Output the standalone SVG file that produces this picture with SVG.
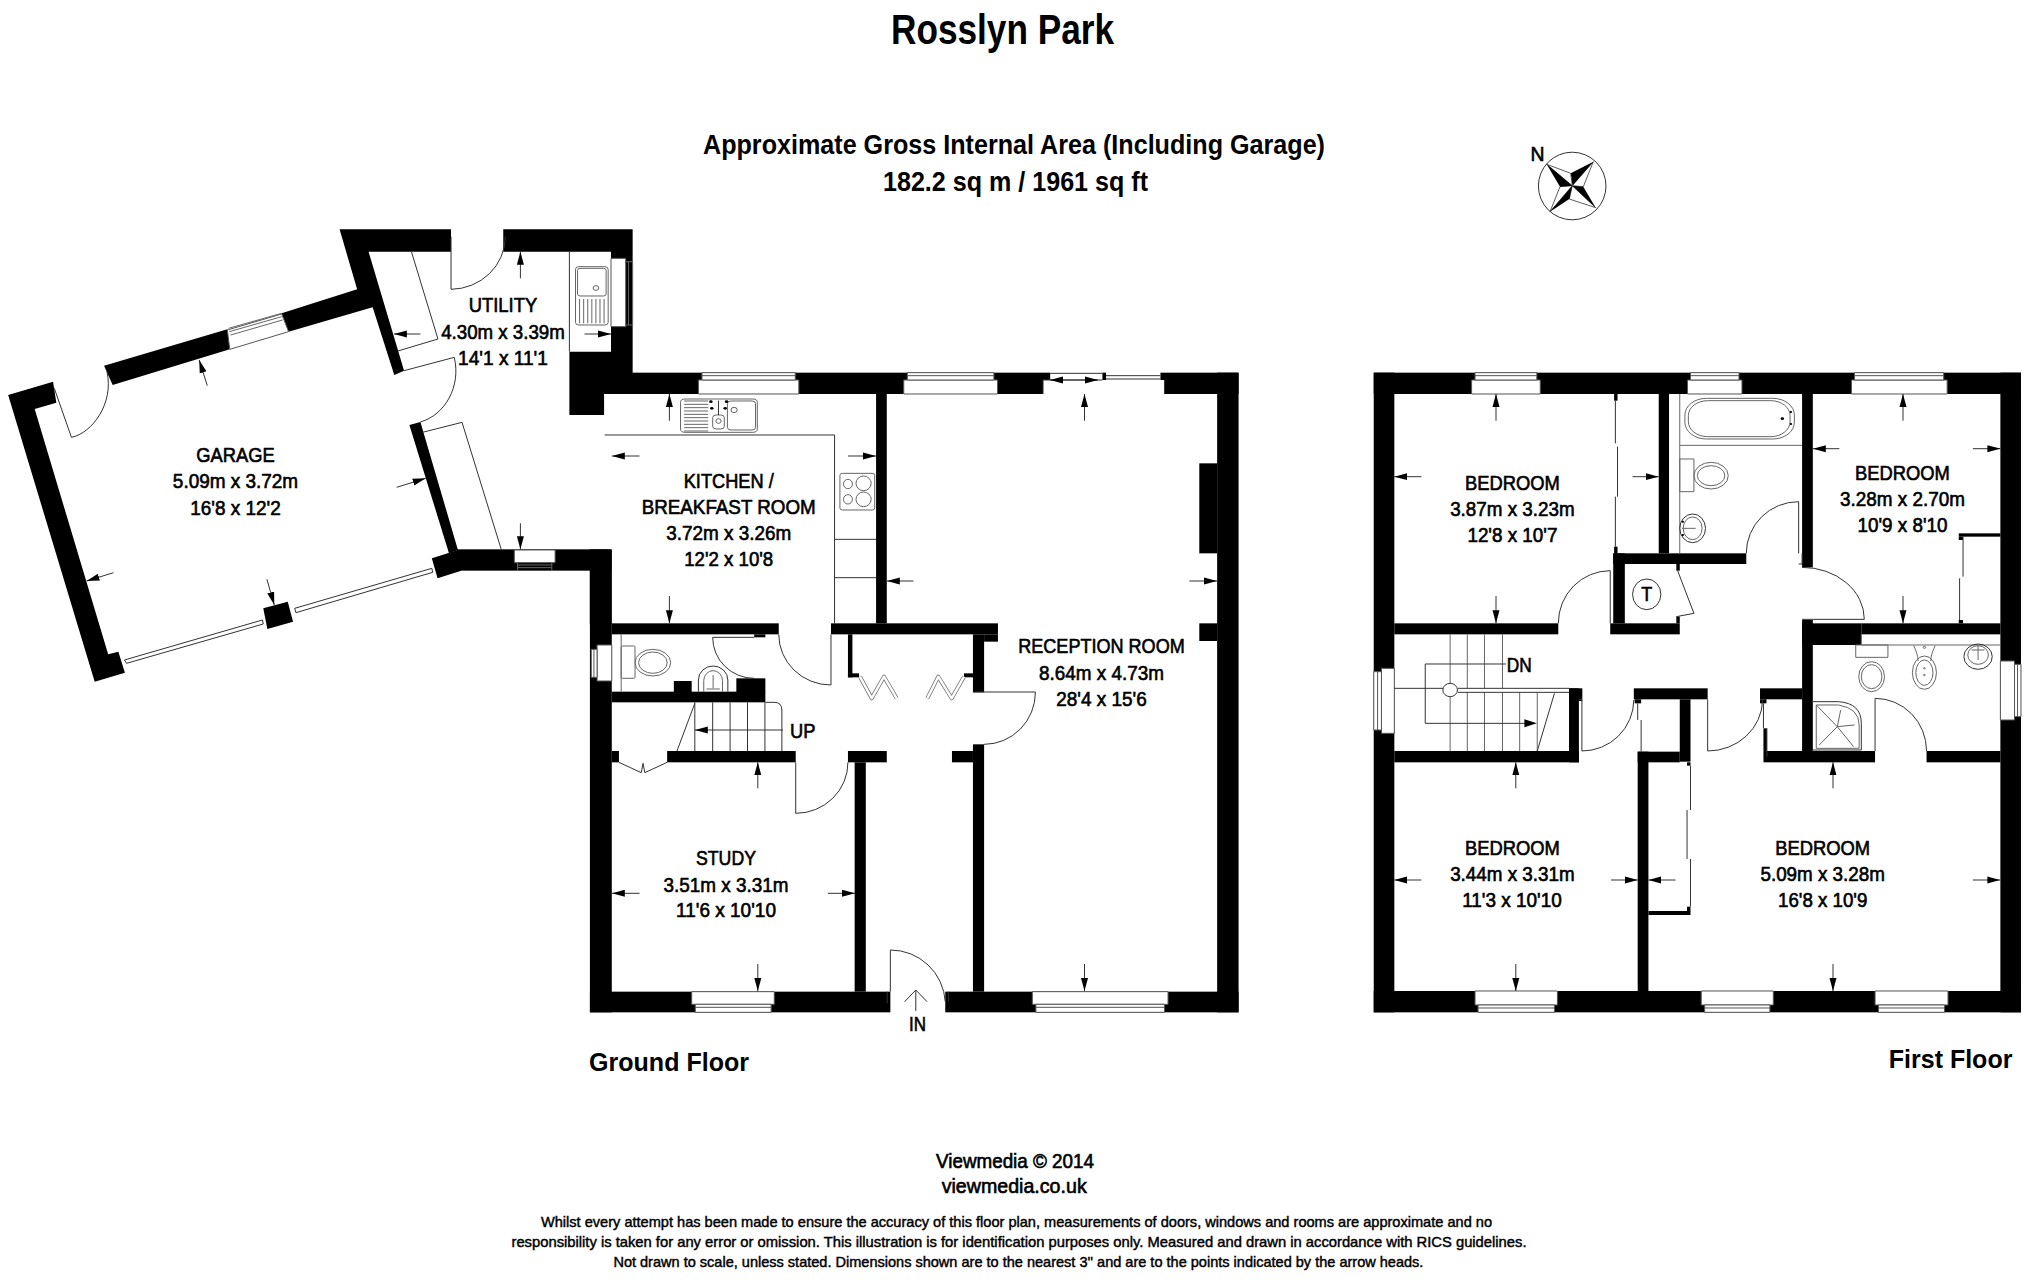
<svg xmlns="http://www.w3.org/2000/svg" width="2033" height="1284" viewBox="0 0 2033 1284">
<style>
.w{fill:#000}
.o{fill:#fff;stroke:#555;stroke-width:1;vector-effect:non-scaling-stroke}
.l{fill:none;stroke:#333;stroke-width:1;vector-effect:non-scaling-stroke}
.lw{fill:#fff;stroke:#333;stroke-width:1;vector-effect:non-scaling-stroke}
.f{fill:none;stroke:#666;stroke-width:1;vector-effect:non-scaling-stroke}
.a{stroke:#333;stroke-width:1;fill:none;marker-end:url(#ah)}
.bf1{fill:none;stroke:#777;stroke-width:4;stroke-linejoin:round}
.bf2{fill:none;stroke:#fff;stroke-width:2.4;stroke-linejoin:round}
text{font-family:"Liberation Sans",Arial,sans-serif;fill:#000;text-anchor:middle}
.r{font-size:21px;stroke:#000;stroke-width:.65px}
.b{font-weight:bold}
.h1{font-size:43px}
.h2{font-size:27px}
.h3{font-size:26px}
.d{font-size:15px;stroke:#000;stroke-width:.45px}
</style>
<defs>
<marker id="ah" markerUnits="userSpaceOnUse" markerWidth="13" markerHeight="8" refX="13" refY="4" orient="auto"><path d="M0,0.5 L13,4 L0,7.5 Z" fill="#000"/></marker>
</defs>
<rect width="2033" height="1284" fill="#fff"/>

<g id="utility-garage" transform="translate(0,220) scale(.40816,.33333)">
<polygon class="w" points="832,28 1105,28 1105,95 903,95 990,452 966,465 913,262 707,335 690,280 875,208"/>
<polygon class="w" points="255,437 557,328 563,388 276,495"/>
<polygon class="w" points="20,525 130,485 138,548 85,567 265,1303 290,1295 306,1358 232,1385"/>
<polygon class="w" points="1003,615 1030,606 1122,990 1100,1000"/>
<polygon class="w" points="1058,1015 1122,990 1130,1052 1072,1075"/>
<polygon class="w" points="645,1165 705,1145 718,1205 655,1227"/>
<polygon class="w" points="1233,28 1550,28 1550,480 1568,480 1568,522 1480,522 1480,585 1395,585 1395,395 1497,395 1497,95 1233,95"/>
<rect class="w" x="1120" y="988" width="378" height="64"/>
<rect class="w" x="1445" y="988" width="53" height="225"/>
<rect class="o" x="1260" y="990" width="100" height="38"/>
<path class="f" d="M1268,1035H1352M1268,1043H1352M1268,1028V1052M1352,1028V1052"/>
<rect class="o" x="1497" y="115" width="36" height="205"/>
<path class="f" d="M1533,125H1550V315H1533M1540,125V315"/>
<polygon class="o" points="557,330 690,282 707,335 563,388"/>
<path class="f" d="M560,325L690,280M562,335L690,290M565,345L692,300"/>
<path class="l" d="M305,1320L643,1200L645,1212L310,1330ZM722,1165L1058,1045L1060,1057L725,1178Z"/>
<path class="l" d="M1105,50V208A135,158 0 0 0 1238,50"/>
<path class="l" d="M1008,95L1073,357L975,393"/>
<path class="l" d="M990,452L1113,412C1130,500 1090,585 1030,606"/>
<path class="l" d="M133,505L175,652C225,640 280,550 262,455"/>
<path class="l" d="M1035,637L1132,607L1228,988"/>
<path class="l" d="M1395,95V395"/>
<rect class="f" x="1410" y="140" width="80" height="175" rx="8"/>
<rect class="f" x="1415" y="145" width="70" height="83" rx="6"/>
<circle class="f" cx="1460" cy="204" r="7"/>
<path class="f" d="M1420,237V310M1430,237V310M1440,237V310M1450,237V310M1460,237V310M1470,237V310M1480,237V310"/>
</g>

<g id="ground-floor" transform="translate(560,360) scale(.44643,.33333)">
<rect class="w" x="100" y="60" width="982" height="42"/>
<rect class="w" x="100" y="38" width="998" height="22"/>
<rect class="w" x="1345" y="38" width="175" height="22"/>
<rect class="w" x="1354" y="60" width="166" height="42"/>
<rect class="w" x="1215" y="38" width="8" height="22"/>
<rect class="w" x="1472" y="38" width="48" height="1919"/>
<rect class="w" x="1432" y="310" width="40" height="270"/>
<rect class="w" x="1432" y="790" width="40" height="53"/>
<rect class="w" x="708" y="102" width="24" height="688"/>
<rect class="w" x="67" y="570" width="49" height="1387"/>
<rect class="w" x="116" y="790" width="374" height="33"/>
<rect class="w" x="607" y="790" width="374" height="33"/>
<rect class="w" x="925" y="823" width="25" height="174"/>
<rect class="w" x="950" y="823" width="31" height="22"/>
<rect class="w" x="645" y="823" width="10" height="129"/>
<rect class="w" x="645" y="940" width="25" height="12"/>
<rect class="w" x="905" y="940" width="20" height="12"/>
<rect class="w" x="435" y="823" width="25" height="9"/>
<rect class="w" x="116" y="995" width="344" height="32"/>
<rect class="w" x="255" y="963" width="40" height="34"/>
<rect class="w" x="395" y="955" width="65" height="42"/>
<rect class="w" x="116" y="1173" width="16" height="34"/>
<rect class="w" x="240" y="1173" width="288" height="34"/>
<rect class="w" x="645" y="1173" width="87" height="34"/>
<rect class="w" x="878" y="1173" width="47" height="34"/>
<rect class="w" x="660" y="1207" width="25" height="688"/>
<rect class="w" x="925" y="1153" width="25" height="742"/>
<rect class="w" x="67" y="1895" width="673" height="62"/>
<rect class="w" x="863" y="1895" width="657" height="62"/>
<!-- windows -->
<rect class="o" x="310" y="60" width="225" height="42"/>
<path class="o" d="M318,38H527V60H318ZM318,47H527"/>
<rect class="o" x="770" y="60" width="210" height="42"/>
<path class="o" d="M778,38H972V60H778ZM778,47H972"/>
<path class="l" d="M1098,40H1215M1098,60H1215M1223,47H1345M1223,57H1345M1082,60V102M1354,60V102M1082,60H1098"/>
<rect class="o" x="83" y="855" width="33" height="108"/>
<path class="o" d="M70,868H83V952H70ZM76,868V952"/>
<rect class="o" x="295" y="1895" width="185" height="38"/>
<path class="o" d="M303,1933H473V1957H303ZM303,1942H473"/>
<rect class="o" x="1058" y="1895" width="304" height="38"/>
<path class="o" d="M1066,1933H1354V1957H1066ZM1066,1942H1354"/>
<!-- kitchen -->
<path class="l" d="M100,225H615V790M615,538H708M615,653H708"/>
<rect class="f" x="270" y="117" width="172" height="100" rx="10"/>
<rect class="f" x="375" y="123" width="63" height="87" rx="8"/>
<rect class="f" x="342" y="165" width="26" height="42" rx="8"/>
<ellipse class="f" cx="355" cy="183" rx="6" ry="7"/>
<ellipse class="f" cx="390" cy="150" rx="7" ry="8"/>
<path class="f" d="M278,123H332M278,133H332M278,143H332M278,153H332M278,163H332M278,173H332M278,183H332M278,193H332M278,203H332M278,213H332"/>
<path class="l" d="M355,122V165"/>
<circle cx="338" cy="125" r="4"/><circle cx="373" cy="125" r="4"/><circle cx="340" cy="145" r="4"/><circle cx="370" cy="145" r="4"/>
<rect class="f" x="627" y="340" width="78" height="110" rx="6"/>
<ellipse class="f" cx="645" cy="372" rx="10" ry="14"/>
<ellipse class="f" cx="680" cy="370" rx="17" ry="22"/>
<ellipse class="f" cx="645" cy="418" rx="10" ry="14"/>
<ellipse class="f" cx="680" cy="418" rx="17" ry="22"/>
<!-- wc -->
<path class="f" d="M137,823V995"/>
<rect class="f" x="137" y="858" width="31" height="97" rx="3"/>
<ellipse class="f" cx="208" cy="908" rx="40" ry="40"/>
<ellipse class="f" cx="208" cy="908" rx="32" ry="32"/>
<path class="l" d="M310,995V960A33,42 0 0 1 376,960V995"/>
<path class="f" d="M322,995V962A21,30 0 0 1 364,962V995M343,945V985M328,987H358"/>
<path class="l" d="M435,832H342A93,123 0 0 0 435,955"/>
<path class="l" d="M607,823V975A117,152 0 0 1 490,823"/>
<path class="l" d="M925,996H1065A115,157 0 0 1 950,1153"/>
<path class="l" d="M528,1207V1360A117,153 0 0 0 645,1207"/>
<!-- stairs -->
<path class="l" d="M302,1027V1173M342,1027V1173M381,1027V1173M420,1027V1173M459,1027V1173M460,1027H480Q497,1027 497,1050V1173M302,1030L262,1173"/>
<path class="l" d="M132,1207L182,1238L186,1210L190,1238L240,1207"/>
<!-- entrance -->
<path class="l" d="M740,1895V1770A123,165 0 0 1 863,1925M733,1895V1930M870,1895V1925"/>
</g>

<g id="bifold-doors">
<path class="bf1" d="M860,676.7L871.7,698.3L884,676.7L896.7,698.3"/>
<path class="bf2" d="M860,676.7L871.7,698.3L884,676.7L896.7,698.3"/>
<path class="bf1" d="M927.3,698.3L938.3,676.7L951.7,698.3L964,676.7"/>
<path class="bf2" d="M927.3,698.3L938.3,676.7L951.7,698.3L964,676.7"/>
</g>

<g id="first-floor" transform="translate(1360,360) scale(.42921,.33333)">
<rect class="w" x="32" y="38" width="1508" height="64"/>
<rect class="w" x="32" y="38" width="48" height="1919"/>
<rect class="w" x="1492" y="38" width="48" height="1919"/>
<rect class="w" x="32" y="1893" width="1508" height="64"/>
<rect class="w" x="696" y="102" width="24" height="478"/>
<rect class="w" x="1030" y="102" width="25" height="520"/>
<rect class="w" x="590" y="580" width="310" height="32"/>
<rect class="w" x="590" y="580" width="27" height="210"/>
<rect class="w" x="583" y="790" width="162" height="33"/>
<rect class="w" x="737" y="770" width="8" height="20"/>
<rect class="w" x="737" y="612" width="8" height="20"/>
<rect class="w" x="80" y="790" width="382" height="33"/>
<rect class="w" x="1030" y="780" width="25" height="414"/>
<rect class="w" x="1030" y="790" width="138" height="65"/>
<rect class="w" x="1168" y="790" width="324" height="33"/>
<rect class="w" x="932" y="985" width="98" height="33"/>
<rect class="w" x="638" y="985" width="172" height="33"/>
<rect class="w" x="745" y="1018" width="25" height="187"/>
<rect class="w" x="647" y="1175" width="25" height="718"/>
<rect class="w" x="647" y="1175" width="98" height="32"/>
<rect class="w" x="672" y="1653" width="98" height="12"/>
<rect class="w" x="762" y="1640" width="8" height="13"/>
<rect class="w" x="762" y="1207" width="8" height="10"/>
<rect class="w" x="487" y="985" width="31" height="33"/>
<rect class="w" x="487" y="985" width="23" height="222"/>
<rect class="w" x="80" y="1173" width="430" height="34"/>
<rect class="w" x="940" y="1173" width="260" height="34"/>
<rect class="w" x="940" y="1105" width="8" height="68"/>
<rect class="w" x="1320" y="1173" width="172" height="34"/>
<rect class="w" x="1395" y="520" width="97" height="10"/>
<rect class="w" x="1395" y="530" width="10" height="10"/>
<rect class="w" x="1395" y="780" width="10" height="10"/>
<rect class="w" x="592" y="102" width="8" height="20"/>
<rect class="w" x="592" y="560" width="8" height="20"/>
<rect class="w" x="640" y="1018" width="15" height="12"/>
<rect class="w" x="932" y="1018" width="15" height="12"/>
<rect class="w" x="510" y="1018" width="8" height="5"/>
<!-- windows -->
<rect class="o" x="260" y="60" width="160" height="42"/><path class="o" d="M268,38H412V60H268ZM268,47H412"/>
<rect class="o" x="763" y="60" width="127" height="42"/><path class="o" d="M770,38H883V60H770ZM770,47H883"/>
<rect class="o" x="1145" y="60" width="223" height="42"/><path class="o" d="M1152,38H1360V60H1152ZM1152,47H1360"/>
<rect class="o" x="50" y="925" width="30" height="195"/><path class="o" d="M32,935H50V1110H32ZM41,935V1110"/>
<rect class="o" x="1492" y="903" width="33" height="177"/><path class="o" d="M1525,913H1540V1070H1525ZM1532,913V1070"/>
<rect class="o" x="268" y="1893" width="192" height="42"/><path class="o" d="M275,1935H453V1957H275ZM275,1944H453"/>
<rect class="o" x="795" y="1893" width="168" height="42"/><path class="o" d="M803,1935H955V1957H803ZM803,1944H955"/>
<rect class="o" x="1200" y="1893" width="170" height="42"/><path class="o" d="M1208,1935H1362V1957H1208ZM1208,1944H1362"/>
<!-- doors -->
<path class="l" d="M583,790V632A121,158 0 0 0 462,790"/>
<path class="l" d="M1022,580V425A122,155 0 0 0 900,580M1030,580V612H1022"/>
<path class="l" d="M1030,778H1175A145,156 0 0 0 1030,622"/>
<path class="l" d="M517,1020V1173A121,155 0 0 0 638,1020"/>
<path class="l" d="M810,1018V1173A128,155 0 0 0 938,1020"/>
<path class="l" d="M1200,1173V1015A120,158 0 0 1 1320,1173"/>
<path class="l" d="M740,632L778,760L737,770"/>
<ellipse class="l" cx="668" cy="703" rx="33" ry="46"/>
<!-- fitted units -->
<path class="l" d="M595,122V250M600,260V410M595,410V560"/>
<path class="l" d="M1397,655V780M1405,530V650"/>
<path class="l" d="M647,1030V1080M655,1080V1175"/>
<path class="l" d="M940,1030V1105M948,1105V1190"/>
<path class="l" d="M770,1217V1350M762,1350V1497M770,1497V1640"/>
<!-- bathroom -->
<path class="f" d="M745,102V580M745,256H1030"/>
<rect class="f" x="757" y="115" width="255" height="122" rx="50"/>
<rect class="f" x="765" y="122" width="237" height="108" rx="45"/>
<circle cx="984" cy="176" r="4"/>
<circle cx="1004" cy="156" r="3"/>
<circle cx="1004" cy="192" r="3"/>
<rect class="f" x="745" y="297" width="33" height="98"/>
<ellipse class="f" cx="818" cy="347" rx="40" ry="40"/>
<ellipse class="f" cx="818" cy="347" rx="32" ry="30"/>
<ellipse class="l" cx="775" cy="505" rx="30" ry="43"/>
<ellipse class="f" cx="775" cy="505" rx="22" ry="34"/>
<path class="f" d="M750,505H782"/>
<circle cx="752" cy="485" r="3"/><circle cx="752" cy="525" r="3"/>
<!-- shower room -->
<path class="f" d="M1168,823V855H1492"/>
<rect class="f" x="1155" y="855" width="75" height="37"/>
<ellipse class="f" cx="1192" cy="950" rx="30" ry="45"/>
<ellipse class="f" cx="1192" cy="950" rx="24" ry="36"/>
<ellipse class="f" cx="1315" cy="938" rx="28" ry="50"/>
<ellipse class="f" cx="1315" cy="938" rx="20" ry="38"/>
<path class="f" d="M1290,857C1298,880 1300,890 1300,903M1340,857C1332,880 1330,890 1330,903"/>
<circle class="f" cx="1315" cy="862" r="3"/><circle class="f" cx="1315" cy="925" r="2"/><circle class="f" cx="1315" cy="945" r="2"/>
<ellipse class="l" cx="1440" cy="890" rx="33" ry="38"/>
<ellipse class="f" cx="1440" cy="885" rx="24" ry="28"/>
<path class="f" d="M1425,870H1455M1440,858V900"/>
<path class="l" d="M1055,1025H1115Q1168,1030 1168,1090V1170H1055"/>
<path class="f" d="M1063,1035H1115Q1163,1045 1163,1095V1165H1063Z"/>
<path class="f" d="M1063,1035L1112,1100L1070,1155M1112,1100L1150,1160M1112,1100L1152,1095M1112,1100L1120,1050"/>
<!-- stairs -->
<path class="f" d="M210,823V985M250,823V985M290,823V985M332,823V985M210,997V1173M250,997V1173M290,997V1173M332,997V1173M372,997V1173M413,997V1173"/>
<path class="l" d="M80,985H195M228,985H487M228,997H487M453,1000L413,1173"/>
<path class="l" d="M340,912H152V1090H385"/>
<polygon points="383,1078 412,1090 383,1102" fill="#000"/>
<ellipse class="lw" cx="210" cy="990" rx="17" ry="20"/>
</g>

<g id="compass">
<circle cx="1572.2" cy="186" r="33.8" fill="#fff" stroke="#333" stroke-width="1"/>
<polygon points="1593.3,161.7 1583.3,186.7 1572.3,185.7" fill="#fff" stroke="#333" stroke-width=".8"/>
<polygon points="1593.3,161.7 1570.7,173.3 1572.3,185.7" fill="#000"/>
<polygon points="1595.7,207.7 1569.3,199 1572.3,185.7" fill="#fff" stroke="#333" stroke-width=".8"/>
<polygon points="1595.7,207.7 1583.3,186.7 1572.3,185.7" fill="#000"/>
<polygon points="1550,211.7 1560,186.7 1572.3,185.7" fill="#fff" stroke="#333" stroke-width=".8"/>
<polygon points="1550,211.7 1569.3,199 1572.3,185.7" fill="#000"/>
<polygon points="1546.7,164.3 1570.7,173.3 1572.3,185.7" fill="#fff" stroke="#333" stroke-width=".8"/>
<polygon points="1546.7,164.3 1560,186.7 1572.3,185.7" fill="#000"/>
<text class="r" x="1537.5" y="161" textLength="14" lengthAdjust="spacingAndGlyphs">N</text>
</g>

<g id="dimension-arrows">
<path class="a" d="M669.4,420.7V394"/>
<path class="a" d="M639.5,456H611.8"/>
<path class="a" d="M848,456H876"/>
<path class="a" d="M669.4,596V623.3"/>
<path class="a" d="M1084.5,420.7V394"/>
<path class="a" d="M1074,380H1050"/>
<path class="a" d="M1074,380H1098"/>
<path class="a" d="M913.5,581H886.8"/>
<path class="a" d="M1189.4,581H1217"/>
<path class="a" d="M1084.5,964V991"/>
<path class="a" d="M757.8,788.3V762.3"/>
<path class="a" d="M639.5,893.3H611.8"/>
<path class="a" d="M827.8,893.3H855"/>
<path class="a" d="M757.8,964V991"/>
<path class="a" d="M783,730H694.8"/>
<path d="M915.8,1011V990M904.6,1001.7L915.8,990L927,1001.7" fill="none" stroke="#333" stroke-width="1"/>
<path class="a" d="M520.4,278.3V251.7"/>
<path class="a" d="M420.4,334H393.9"/>
<path class="a" d="M584.5,334H611"/>
<path class="a" d="M520.4,523.3V549.3"/>
<path class="a" d="M207.3,385.7L199.2,360"/>
<path class="a" d="M396.7,487.3L425.7,478.3"/>
<path class="a" d="M113.5,572.7L86.5,581"/>
<path class="a" d="M266.9,579.3L274.3,605"/>
<path class="a" d="M1496,420.7V394"/>
<path class="a" d="M1421.4,476.7H1394.3"/>
<path class="a" d="M1632.5,476.7H1658.7"/>
<path class="a" d="M1496,596V623.3"/>
<path class="a" d="M1903,420.7V394"/>
<path class="a" d="M1839.4,448.7H1812.8"/>
<path class="a" d="M1972.9,448.7H2000.4"/>
<path class="a" d="M1903,596V623.3"/>
<path class="a" d="M1515.8,788.3V762.3"/>
<path class="a" d="M1421.4,880H1394.3"/>
<path class="a" d="M1611,880H1637.7"/>
<path class="a" d="M1515.8,964V991"/>
<path class="a" d="M1833,788.3V762.3"/>
<path class="a" d="M1675.5,880H1648.4"/>
<path class="a" d="M1972.9,880H2000.4"/>
<path class="a" d="M1833,964V991"/>
</g>

<g id="labels">
<text class="b h1" x="1002.5" y="44" textLength="223" lengthAdjust="spacingAndGlyphs">Rosslyn Park</text>
<text class="b h2" x="1014" y="154" textLength="622" lengthAdjust="spacingAndGlyphs">Approximate Gross Internal Area (Including Garage)</text>
<text class="b h2" x="1015.5" y="190.7" textLength="265" lengthAdjust="spacingAndGlyphs">182.2 sq m / 1961 sq ft</text>

<text class="r" x="503" y="312" textLength="68.6" lengthAdjust="spacingAndGlyphs">UTILITY</text>
<text class="r" x="503" y="338.6" textLength="123.7" lengthAdjust="spacingAndGlyphs">4.30m x 3.39m</text>
<text class="r" x="503" y="364.5" textLength="89.8" lengthAdjust="spacingAndGlyphs">14'1 x 11'1</text>

<text class="r" x="235.5" y="461.5" textLength="78.4" lengthAdjust="spacingAndGlyphs">GARAGE</text>
<text class="r" x="235.5" y="487.8" textLength="125.3" lengthAdjust="spacingAndGlyphs">5.09m x 3.72m</text>
<text class="r" x="235.5" y="514.5" textLength="90.6" lengthAdjust="spacingAndGlyphs">16'8 x 12'2</text>

<text class="r" x="728.7" y="487.8" textLength="90" lengthAdjust="spacingAndGlyphs">KITCHEN /</text>
<text class="r" x="728.7" y="513.5" textLength="174" lengthAdjust="spacingAndGlyphs">BREAKFAST ROOM</text>
<text class="r" x="728.7" y="539.5" textLength="125" lengthAdjust="spacingAndGlyphs">3.72m x 3.26m</text>
<text class="r" x="728.7" y="565.5" textLength="89" lengthAdjust="spacingAndGlyphs">12'2 x 10'8</text>

<text class="r" x="1101.5" y="652.8" textLength="166.5" lengthAdjust="spacingAndGlyphs">RECEPTION ROOM</text>
<text class="r" x="1101.5" y="679.5" textLength="125" lengthAdjust="spacingAndGlyphs">8.64m x 4.73m</text>
<text class="r" x="1101.5" y="705.5" textLength="90.6" lengthAdjust="spacingAndGlyphs">28'4 x 15'6</text>

<text class="r" x="726" y="865.2" textLength="60" lengthAdjust="spacingAndGlyphs">STUDY</text>
<text class="r" x="726" y="891.8" textLength="125" lengthAdjust="spacingAndGlyphs">3.51m x 3.31m</text>
<text class="r" x="726" y="917.2" textLength="100" lengthAdjust="spacingAndGlyphs">11'6 x 10'10</text>

<text class="r" x="802.7" y="738" textLength="25.4" lengthAdjust="spacingAndGlyphs">UP</text>
<text class="r" x="917.5" y="1030.5" textLength="17" lengthAdjust="spacingAndGlyphs">IN</text>
<text class="b h3" x="669" y="1071" textLength="160" lengthAdjust="spacingAndGlyphs">Ground Floor</text>
<text class="b h3" x="1950.6" y="1068.3" textLength="123.6" lengthAdjust="spacingAndGlyphs">First Floor</text>

<text class="r" x="1512.4" y="489.5" textLength="94.8" lengthAdjust="spacingAndGlyphs">BEDROOM</text>
<text class="r" x="1512.4" y="516.2" textLength="124.5" lengthAdjust="spacingAndGlyphs">3.87m x 3.23m</text>
<text class="r" x="1512.4" y="541.8" textLength="90" lengthAdjust="spacingAndGlyphs">12'8 x 10'7</text>

<text class="r" x="1902.5" y="479.5" textLength="94.8" lengthAdjust="spacingAndGlyphs">BEDROOM</text>
<text class="r" x="1902.5" y="505.5" textLength="125" lengthAdjust="spacingAndGlyphs">3.28m x 2.70m</text>
<text class="r" x="1902.5" y="531.8" textLength="90" lengthAdjust="spacingAndGlyphs">10'9 x 8'10</text>

<text class="r" x="1512.4" y="854.8" textLength="94.8" lengthAdjust="spacingAndGlyphs">BEDROOM</text>
<text class="r" x="1512.4" y="881.2" textLength="124.5" lengthAdjust="spacingAndGlyphs">3.44m x 3.31m</text>
<text class="r" x="1512" y="906.8" textLength="99.6" lengthAdjust="spacingAndGlyphs">11'3 x 10'10</text>

<text class="r" x="1822.7" y="854.8" textLength="94.8" lengthAdjust="spacingAndGlyphs">BEDROOM</text>
<text class="r" x="1822.7" y="881.2" textLength="124.5" lengthAdjust="spacingAndGlyphs">5.09m x 3.28m</text>
<text class="r" x="1822.7" y="906.8" textLength="89.3" lengthAdjust="spacingAndGlyphs">16'8 x 10'9</text>

<text class="r" x="1519.3" y="672" textLength="25" lengthAdjust="spacingAndGlyphs">DN</text>
<text class="r" x="1646.7" y="600.5" textLength="11" lengthAdjust="spacingAndGlyphs">T</text>

<text class="r" x="1015" y="1167.7" textLength="158" lengthAdjust="spacingAndGlyphs">Viewmedia © 2014</text>
<text class="r" x="1014.2" y="1192.7" textLength="145" lengthAdjust="spacingAndGlyphs">viewmedia.co.uk</text>
<text class="d" x="1016.5" y="1227.3" textLength="951" lengthAdjust="spacingAndGlyphs">Whilst every attempt has been made to ensure the accuracy of this floor plan, measurements of doors, windows and rooms are approximate and no</text>
<text class="d" x="1019" y="1247.3" textLength="1015" lengthAdjust="spacingAndGlyphs">responsibility is taken for any error or omission. This illustration is for identification purposes only. Measured and drawn in accordance with RICS guidelines.</text>
<text class="d" x="1018.4" y="1267.3" textLength="810" lengthAdjust="spacingAndGlyphs">Not drawn to scale, unless stated. Dimensions shown are to the nearest 3'' and are to the points indicated by the arrow heads.</text>
</g>
</svg>
